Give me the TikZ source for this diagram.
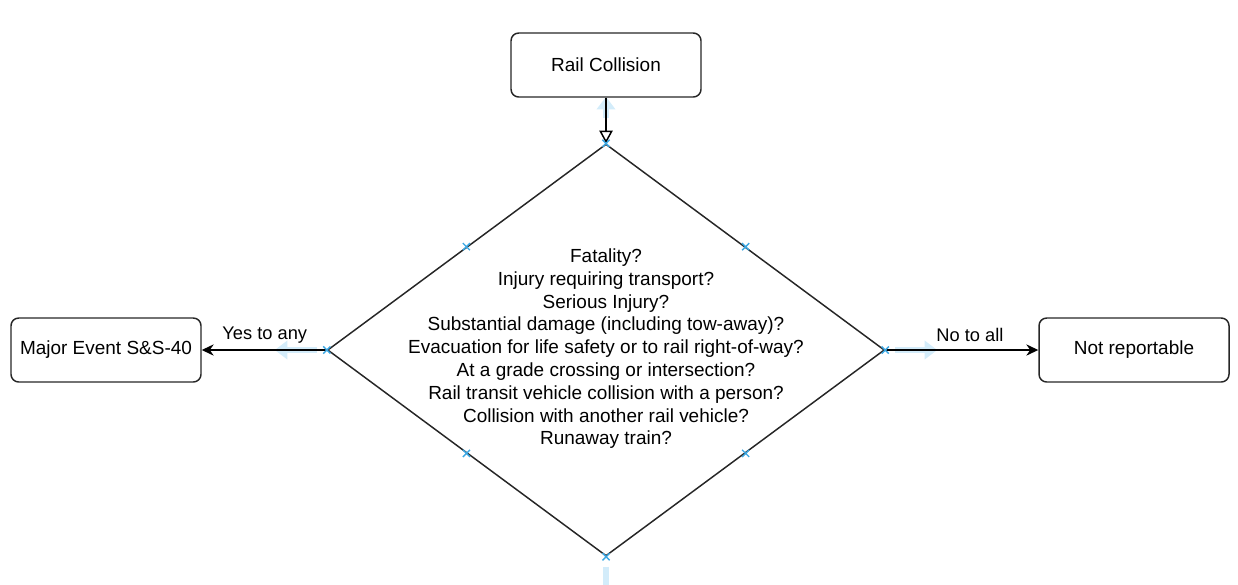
\documentclass[tikz,border=0pt]{standalone}
\usepackage{fontspec}
\setmainfont{Liberation Sans}
\usetikzlibrary{shapes.geometric, arrows.meta}

\definecolor{handleblue}{HTML}{3BA7E3}
\definecolor{hintblue}{HTML}{D3ECFA}

\tikzset{
	box/.style={draw=black!85, rounded corners=5.5pt, line width=1.05pt, minimum width=4.75cm, minimum height=1.6cm, font=\fontsize{13.5}{16.2}\selectfont},
	decision/.style={diamond, draw=black!85, line width=1.05pt, minimum width=13.925cm, minimum height=10.3cm, inner sep=0pt},
	flow/.style={line width=1.05pt, -{Stealth[length=8.5pt,width=8pt]}},
	edgelabel/.style={font=\fontsize{13}{15.6}\selectfont, inner sep=1pt},
	handle/.style={handleblue, line width=1pt},
	hint/.style={hintblue, line width=3.6pt, -{Triangle[length=9pt,width=13pt]}}
}

\begin{document}
\begin{tikzpicture}
	\useasboundingbox (0,0) rectangle (30.95,-14.6);
	% the decision and the three boxes
	\node[decision] (check) at (15.15,-8.75) {};
	% faint hover arrows of the editor (behind everything)
	\draw[hint] (15.15,-2.95) -- (15.15,-2.42);
	\draw[hint] ([xshift=-0.25cm]check.west) -- ([xshift=-1.3cm]check.west);
	\draw[hint] ([xshift=0.25cm]check.east) -- ([xshift=1.3cm]check.east);
	\draw[hintblue, line width=3.6pt] ([yshift=-0.25cm]check.south) -- ([yshift=-0.8cm]check.south);
	\node[box] (rail) at (15.15,-1.625) {Rail Collision};
	\node[box] (major) at (2.65,-8.75) {Major Event S\&S-40};
	\node[box] (notrep) at (28.35,-8.75) {Not reportable};
	\node[align=center, font=\fontsize{13.5}{16.2}\selectfont] (questions) at ([yshift=0.03cm]check.center) {Fatality?\\
		Injury requiring transport?\\
		Serious Injury?\\
		Substantial damage (including tow-away)?\\
		Evacuation for life safety or to rail right-of-way?\\
		At a grade crossing or intersection?\\
		Rail transit vehicle collision with a person?\\
		Collision with another rail vehicle?\\
		Runaway train?};
	% connectors
	\draw[line width=1.05pt, -{Triangle[open,length=9pt,width=9.5pt]}] (rail) -- (check.north);
	\draw[flow] (check.west) -- (major);
	\draw[flow] (check.east) -- (notrep);
	\node[edgelabel] (yeslbl) at (6.62,-8.37) {Yes to any};
	\node[edgelabel] (nolbl) at (24.25,-8.37) {No to all};
	% connection handles
	\foreach \a in {north, south, east, west, north west, north east, south west, south east}
		\draw[handle] ([shift={(-0.09,-0.09)}]check.\a) -- ([shift={(0.09,0.09)}]check.\a)
			([shift={(-0.09,0.09)}]check.\a) -- ([shift={(0.09,-0.09)}]check.\a);
\end{tikzpicture}
\end{document}
